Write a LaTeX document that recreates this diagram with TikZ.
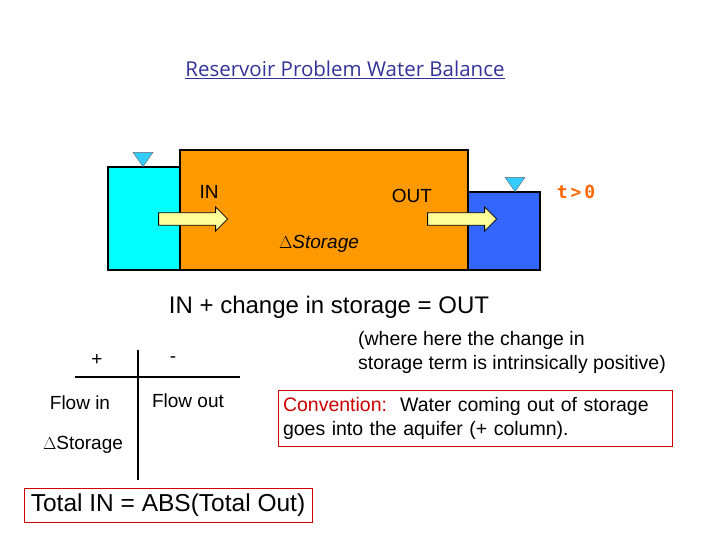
\documentclass[tikz,border=0pt]{standalone}
\usepackage{fontspec}
\setmainfont{Liberation Sans}
\newfontfamily\titlefont{Open Sans}
\newfontfamily\monofont{DejaVu Sans Mono}
\usetikzlibrary{shapes.geometric,shapes.arrows}
\definecolor{cy}{HTML}{00FFFF}
\definecolor{orng}{HTML}{FF9900}
\definecolor{blu}{HTML}{3366FF}
\definecolor{tri}{HTML}{33CCFF}
\definecolor{arr}{HTML}{FFFF99}
\definecolor{ttl}{HTML}{333399}
\definecolor{tcol}{HTML}{FF6600}
\begin{document}
\begin{tikzpicture}[x=1pt,y=-1pt,
  tank/.style={draw=black,line width=1.2pt},
  wl/.style={isosceles triangle,shape border rotate=-90,isosceles triangle apex angle=70,fill=tri,draw=black!60,line width=0.4pt,inner sep=0pt,minimum height=14pt,minimum width=20pt,anchor=apex},
  flow/.style={single arrow,fill=arr,draw=black,line width=0.8pt,minimum height=69pt,minimum width=24pt,single arrow head extend=4pt,inner sep=4pt},
  lbl/.style={font=\fontsize{19}{21}\selectfont,inner sep=0pt},
  redbox/.style={draw=red!80!black,line width=0.8pt,fill=white}]
\useasboundingbox (0,0) rectangle (720,540);
\node[font=\titlefont\fontsize{20.5}{24}\selectfont,text=ttl] (title) at (345,70) {\underline{Reservoir Problem Water Balance}};
\draw[tank,fill=cy] (108,167) rectangle (180,270);
\draw[tank,fill=blu] (468,192) rectangle (540,270);
\draw[tank,fill=orng] (180,150) rectangle (468,270);
\node[wl] (wl1) at (143,167) {};
\node[wl] (wl2) at (515,192) {};
\node[flow] (fin) at (190,219) {};
\node[flow] (fout) at (459,219) {};
\node[lbl] (in) at (209,192) {IN};
\node[lbl] (out) at (412,196) {OUT};
\node[lbl] (st) at (319,244) {$\Delta$\textit{Storage}};
\node[font=\monofont\bfseries\fontsize{18}{20}\selectfont,text=tcol] (t) at (576,192) {t\,>\,0};
\node[font=\fontsize{24}{26}\selectfont] (eq) at (329,307) {IN + change in storage = OUT};
\node[font=\fontsize{19.5}{24}\selectfont,align=left] (note) at (512,352) {(where here the change in\\storage term is intrinsically positive)};
\coordinate (hl) at (75,377); \coordinate (hr) at (240,377);
\coordinate (vt) at (138,350); \coordinate (vb) at (138,480);
\draw[line width=2.5pt] (hl) -- (hr);
\draw[line width=2.5pt] (vt) -- (vb);
\node[lbl] (plus) at (97,360) {+};
\node[lbl] (minus) at (173,360) {-};
\node[lbl] (fi) at (80,403) {Flow in};
\node[lbl] (fo) at (188,401) {Flow out};
\node[lbl] (ds) at (83,445) {$\Delta$Storage};
\node[redbox,minimum width=394pt,minimum height=56pt,text width=384pt,font=\fontsize{19.5}{24}\selectfont,align=left] (conv) at (475,418) {\textcolor{red!80!black}{Convention:}\ \ Water coming out of storage\\goes into the aquifer (+ column).};
\node[redbox,minimum width=288pt,minimum height=34pt,font=\fontsize{24.5}{26}\selectfont] (tot) at (168,505) {Total IN = ABS(Total Out)};
\end{tikzpicture}
\end{document}
